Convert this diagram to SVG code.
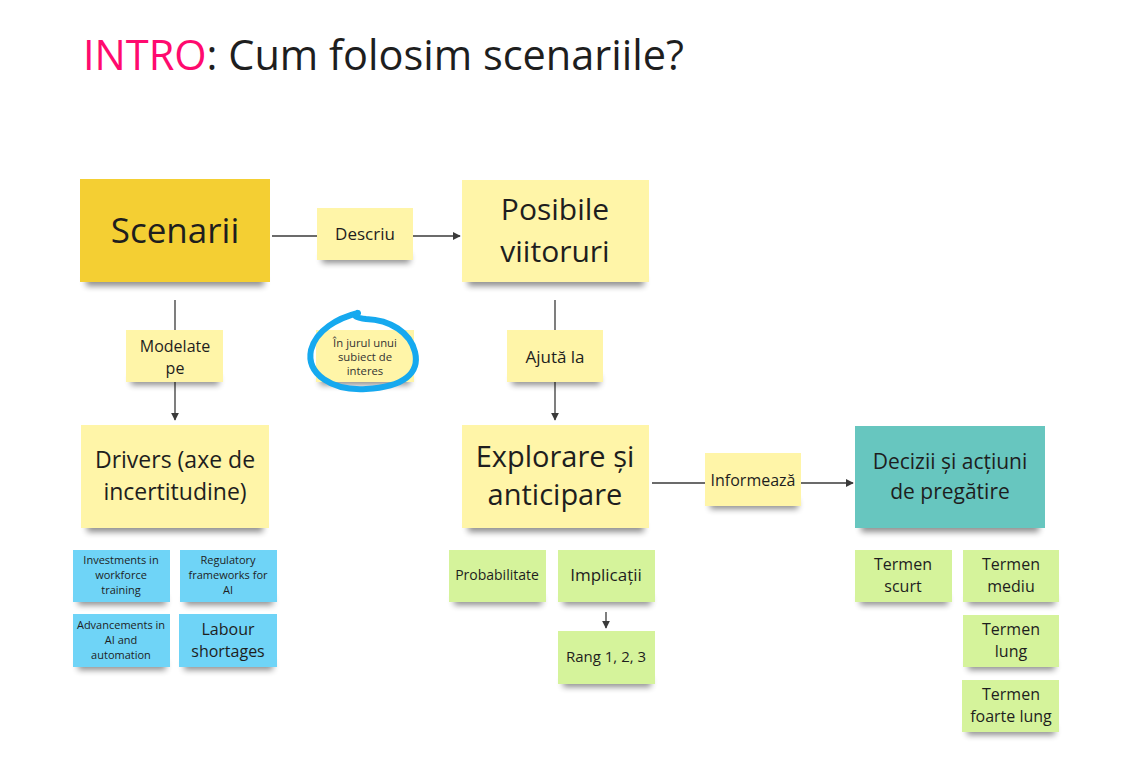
<svg xmlns="http://www.w3.org/2000/svg" width="1131" height="773" viewBox="0 0 1131 773">
<defs>
<filter id="blur" x="-20%" y="-100%" width="140%" height="300%"><feGaussianBlur stdDeviation="3"/></filter>
<marker id="arr" viewBox="0 0 10 10" refX="9" refY="5" markerWidth="8" markerHeight="8" markerUnits="userSpaceOnUse" orient="auto"><path d="M0,0 L10,5 L0,10 z" fill="#3a3a3a"/></marker>
</defs>
<style>
text{font-family:"Open Sans","Noto Sans","DejaVu Sans",sans-serif;fill:#1e1e1e;text-anchor:middle}
.sh{fill:#000;opacity:.45;filter:url(#blur)}
.gold{fill:#f4cf33}
.ly{fill:#fff5a8}
.blue{fill:#6fd4f7}
.green{fill:#d5f39b}
.teal{fill:#67c6bf}
.con{stroke:#3a3a3a;stroke-width:1.3;fill:none}
</style>
<rect width="1131" height="773" fill="#ffffff"/>
<text x="83" y="70" style="text-anchor:start;font-size:41.5px"><tspan style="fill:#ff0a6e">INTRO</tspan>: Cum folosim scenariile?</text>

<g id="connectors">
<line class="con" x1="272" y1="236" x2="460" y2="236" marker-end="url(#arr)"/>
<line class="con" x1="175" y1="300" x2="175" y2="420" marker-end="url(#arr)"/>
<line class="con" x1="555" y1="300" x2="555" y2="420" marker-end="url(#arr)"/>
<line class="con" x1="652" y1="483" x2="853" y2="483" marker-end="url(#arr)"/>
<line class="con" x1="606" y1="612" x2="606" y2="628" marker-end="url(#arr)"/>
</g>

<g id="scenarii"><rect class="sh" x="86" y="276" width="178" height="10"/><rect class="gold" x="80" y="179" width="190" height="103"/><text x="175" y="243" style="font-size:35px">Scenarii</text></g>
<g id="descriu"><rect class="sh" x="322" y="254" width="88" height="9"/><rect class="ly" x="317" y="208" width="96" height="52"/><text x="365" y="240" style="font-size:17px">Descriu</text></g>
<g id="posibile"><rect class="sh" x="468" y="276" width="176" height="10"/><rect class="ly" x="462" y="180" width="187" height="102"/><text x="555" y="220" style="font-size:30px">Posibile</text><text x="555" y="262" style="font-size:30px">viitoruri</text></g>
<g id="modelate"><rect class="sh" x="131" y="376" width="88" height="9"/><rect class="ly" x="126" y="330" width="97" height="52"/><text x="175" y="352" style="font-size:16px">Modelate</text><text x="175" y="374" style="font-size:16px">pe</text></g>
<g id="subiect"><rect class="sh" x="320" y="376" width="90" height="9"/><rect class="ly" x="316" y="330" width="98" height="52"/><text x="365" y="347" style="font-size:11.3px;fill:#333">În jurul unui</text><text x="365" y="361" style="font-size:11.3px;fill:#333">subiect de</text><text x="365" y="375" style="font-size:11.3px;fill:#333">interes</text>
<path d="M358 313 C 338 318, 316 330, 311 350 C 306 374, 332 391, 366 389 C 404 387, 420 373, 415 352 C 410 332, 390 320, 366 319 C 357 318, 352 316, 357 313" fill="none" stroke="#16a9ef" stroke-width="6" stroke-linecap="round" stroke-linejoin="round"/></g>
<g id="ajuta"><rect class="sh" x="512" y="376" width="88" height="9"/><rect class="ly" x="507" y="330" width="96" height="52"/><text x="555" y="363" style="font-size:17px">Ajută la</text></g>
<g id="drivers"><rect class="sh" x="87" y="522" width="176" height="10"/><rect class="ly" x="81" y="425" width="188" height="103"/><text x="175" y="468" style="font-size:23px">Drivers (axe de</text><text x="175" y="500" style="font-size:23px">incertitudine)</text></g>
<g id="explorare"><rect class="sh" x="468" y="522" width="176" height="10"/><rect class="ly" x="462" y="425" width="187" height="103"/><text x="555" y="467" style="font-size:29px">Explorare și</text><text x="555" y="505" style="font-size:29px">anticipare</text></g>
<g id="informeaza"><rect class="sh" x="710" y="500" width="88" height="9"/><rect class="ly" x="705" y="453" width="96" height="53"/><text x="753" y="486" style="font-size:16px">Informează</text></g>
<g id="decizii"><rect class="sh" x="861" y="522" width="178" height="10"/><rect class="teal" x="855" y="426" width="190" height="102"/><text x="950" y="469" style="font-size:21px">Decizii și acțiuni</text><text x="950" y="499" style="font-size:21px">de pregătire</text></g>

<g id="investments"><rect class="sh" x="78" y="596" width="88" height="9"/><rect class="blue" x="73" y="550" width="97" height="52"/><text x="121" y="564" style="font-size:11px">Investments in</text><text x="121" y="579" style="font-size:11px">workforce</text><text x="121" y="594" style="font-size:11px">training</text></g>
<g id="regulatory"><rect class="sh" x="185" y="596" width="88" height="9"/><rect class="blue" x="180" y="550" width="97" height="52"/><text x="228" y="564" style="font-size:11px">Regulatory</text><text x="228" y="579" style="font-size:11px">frameworks for</text><text x="228" y="594" style="font-size:11px">AI</text></g>
<g id="advancements"><rect class="sh" x="78" y="661" width="88" height="9"/><rect class="blue" x="73" y="614" width="97" height="53"/><text x="121" y="629" style="font-size:11px">Advancements in</text><text x="121" y="644" style="font-size:11px">AI and</text><text x="121" y="659" style="font-size:11px">automation</text></g>
<g id="labour"><rect class="sh" x="184" y="661" width="89" height="9"/><rect class="blue" x="179" y="614" width="98" height="53"/><text x="228" y="635" style="font-size:16px">Labour</text><text x="228" y="657" style="font-size:16px">shortages</text></g>

<g id="probabilitate"><rect class="sh" x="454" y="596" width="88" height="9"/><rect class="green" x="449" y="550" width="97" height="52"/><text x="497" y="580" style="font-size:14px">Probabilitate</text></g>
<g id="implicatii"><rect class="sh" x="563" y="596" width="88" height="9"/><rect class="green" x="558" y="550" width="97" height="52"/><text x="606" y="581" style="font-size:17px">Implicații</text></g>
<g id="rang"><rect class="sh" x="563" y="678" width="88" height="9"/><rect class="green" x="558" y="631" width="97" height="53"/><text x="606" y="662" style="font-size:15px">Rang 1, 2, 3</text></g>

<g id="termen-scurt"><rect class="sh" x="860" y="596" width="88" height="9"/><rect class="green" x="855" y="550" width="97" height="52"/><text x="903" y="570" style="font-size:16px">Termen</text><text x="903" y="592" style="font-size:16px">scurt</text></g>
<g id="termen-mediu"><rect class="sh" x="968" y="596" width="87" height="9"/><rect class="green" x="963" y="550" width="96" height="52"/><text x="1011" y="570" style="font-size:16px">Termen</text><text x="1011" y="592" style="font-size:16px">mediu</text></g>
<g id="termen-lung"><rect class="sh" x="968" y="661" width="87" height="9"/><rect class="green" x="963" y="615" width="96" height="52"/><text x="1011" y="635" style="font-size:16px">Termen</text><text x="1011" y="657" style="font-size:16px">lung</text></g>
<g id="termen-foarte-lung"><rect class="sh" x="967" y="726" width="88" height="9"/><rect class="green" x="962" y="680" width="97" height="52"/><text x="1011" y="700" style="font-size:16px">Termen</text><text x="1011" y="722" style="font-size:16px">foarte lung</text></g>
</svg>
